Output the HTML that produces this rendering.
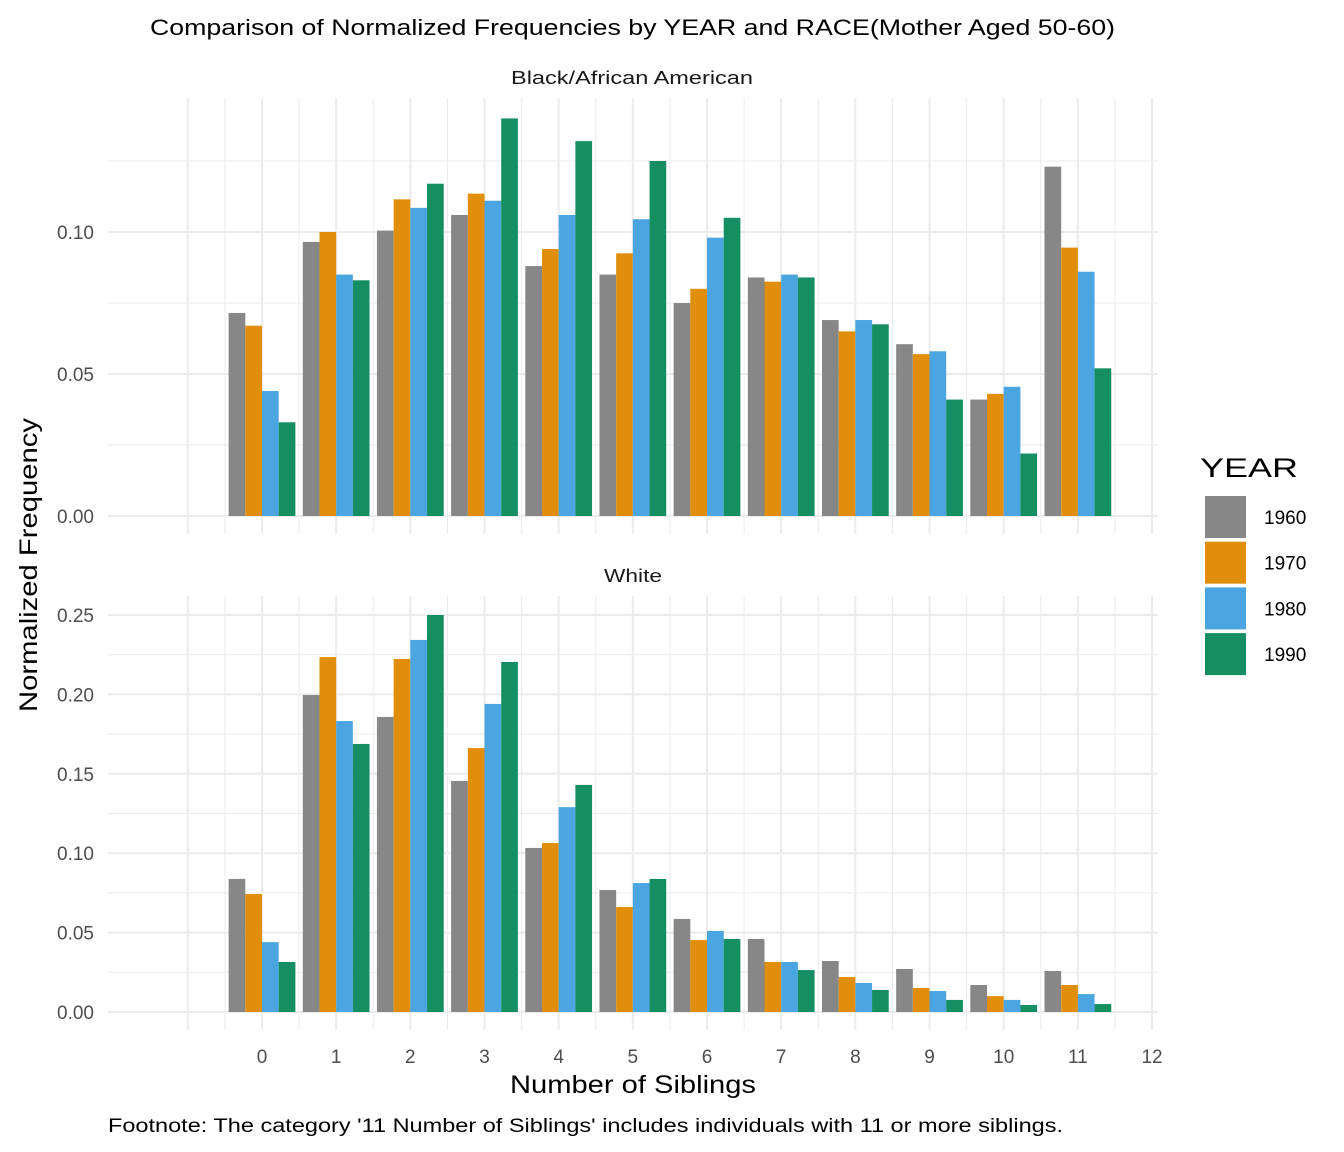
<!DOCTYPE html>
<html><head><meta charset="utf-8"><style>
body{margin:0;background:#fff;}
svg{display:block;font-family:"Liberation Sans",Arial,sans-serif;}
</style></head><body>
<svg id="chart" width="1344" height="1152">
<text x="150" y="35" font-size="22" textLength="965" lengthAdjust="spacingAndGlyphs" fill="#000">Comparison of Normalized Frequencies by YEAR and RACE(Mother Aged 50-60)</text>
<text x="511" y="84" font-size="18" textLength="242" lengthAdjust="spacingAndGlyphs" fill="#1a1a1a">Black/African American</text>
<text x="604" y="582" font-size="18" textLength="58" lengthAdjust="spacingAndGlyphs" fill="#1a1a1a">White</text>
<text transform="translate(37,565) rotate(-90)" text-anchor="middle" font-size="25" textLength="294" lengthAdjust="spacingAndGlyphs" fill="#000">Normalized Frequency</text>
<text x="510" y="1093" font-size="25" textLength="246" lengthAdjust="spacingAndGlyphs" fill="#000">Number of Siblings</text>
<text x="108" y="1132" font-size="19" textLength="955" lengthAdjust="spacingAndGlyphs" fill="#000">Footnote: The category '11 Number of Siblings' includes individuals with 11 or more siblings.</text>
<g id="legend">
<text x="1200" y="477" font-size="27" textLength="98" lengthAdjust="spacingAndGlyphs" fill="#000">YEAR</text>
</g>
</svg>
<script>
const years = ["1960","1970","1980","1990"];
const colors = ["#878787","#E08E0B","#4AA5E0","#158F62"];
const categories = [0,1,2,3,4,5,6,7,8,9,10,11];
const xTicks = [0,1,2,3,4,5,6,7,8,9,10,11,12];
const black1960 = [0.0715,0.0965,0.1005,0.106,0.088,0.085,0.075,0.084,0.069,0.0605,0.041,0.123];
const black1970 = [0.067,0.100,0.1115,0.1135,0.094,0.0925,0.080,0.0825,0.065,0.057,0.043,0.0945];
const black1980 = [0.044,0.085,0.1085,0.111,0.106,0.1045,0.098,0.085,0.069,0.058,0.0455,0.086];
const black1990 = [0.033,0.083,0.117,0.140,0.132,0.125,0.105,0.084,0.0675,0.041,0.022,0.052];
const white1960 = [0.0838,0.1996,0.1858,0.1455,0.1033,0.0768,0.0586,0.046,0.0321,0.0271,0.017,0.0258];
const white1970 = [0.0743,0.2235,0.2223,0.1662,0.1064,0.0661,0.0453,0.0315,0.022,0.0151,0.010,0.017];
const white1980 = [0.044,0.1832,0.2343,0.194,0.129,0.0812,0.051,0.0315,0.0183,0.0132,0.0076,0.0113];
const white1990 = [0.0315,0.1688,0.25,0.2204,0.143,0.0838,0.046,0.0264,0.0139,0.0076,0.0044,0.005];
const blackTicks = [0,0.05,0.10];
const blackTickLabels = ["0.00","0.05","0.10"];
const whiteTicks = [0,0.05,0.10,0.15,0.20,0.25];
const whiteTickLabels = ["0.00","0.05","0.10","0.15","0.20","0.25"];

const NS="http://www.w3.org/2000/svg";
const svg=document.getElementById('chart');
function mk(tag,attrs,parent){const e=document.createElementNS(NS,tag);for(const k in attrs)e.setAttribute(k,attrs[k]);(parent||svg).appendChild(e);return e;}
const xScale=v=>262+v*74.17;
const PL=108,PR=1158;
function panel(name,top,bottom,y0,yPerUnit,ticks,labels,series,minorMax){
  const y=v=>y0-v*yPerUnit;
  const g=mk('g',{});
  
  
  for(let v=0.025;v<=minorMax;v+=0.05){const l=mk('line',{x1:PL,x2:PR,y1:y(v),y2:y(v),stroke:'#ebebeb','stroke-width':1},g);}
  for(let v=-1;v<=12;v++){const l=mk('line',{x1:xScale(v),x2:xScale(v),y1:top,y2:bottom,stroke:'#ebebeb','stroke-width':2},g);}
  for(let v=-0.5;v<12;v+=1){const l=mk('line',{x1:xScale(v),x2:xScale(v),y1:top,y2:bottom,stroke:'#ebebeb','stroke-width':1},g);}
  ticks.forEach((t,i)=>{
    const l=mk('line',{x1:PL,x2:PR,y1:y(t),y2:y(t),stroke:'#ebebeb','stroke-width':2},g);
    
    const tx=mk('text',{x:94,y:y(t)+7,'text-anchor':'end','font-size':19,fill:'#4d4d4d'},g);
    tx.textContent=labels[i];
    
  });
  const bw=0.225*74.17;
  series.forEach((arr,s)=>{
    categories.forEach((c,i)=>{
      const x=xScale(c)-0.45*74.17+s*bw;
      const r=mk('rect',{x:x,y:y(arr[i]),width:bw,height:y0-y(arr[i]),fill:colors[s]},g);
      
      
    });
  });
}
panel('black',98,534,516,2840,blackTicks,blackTickLabels,[black1960,black1970,black1980,black1990],0.14);
panel('white',596,1030,1012,1588,whiteTicks,whiteTickLabels,[white1960,white1970,white1980,white1990],0.25);
xTicks.forEach(t=>{
  const tx=mk('text',{x:xScale(t),y:1063,'text-anchor':'middle','font-size':19,fill:'#4d4d4d'});
  tx.textContent=t;
  
  
});
const lg=document.getElementById('legend');
years.forEach((yr,i)=>{
  const yy=496+i*45.7;
  const r=mk('rect',{x:1205,y:yy,width:41,height:42,fill:colors[i]},lg);
  
  
  const t=mk('text',{x:1264,y:yy+28,'font-size':19,fill:'#000'},lg);
  t.textContent=yr;
  
  
});
</script>
</body></html>
